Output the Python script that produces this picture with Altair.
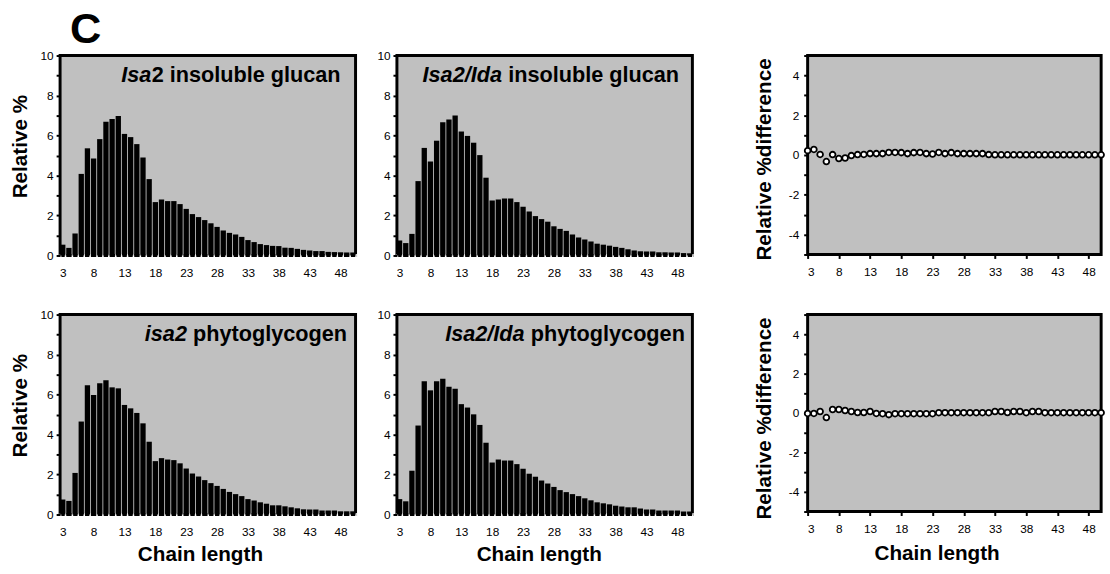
import altair as alt
import pandas as pd

chain = list(range(3, 51))

isa2_glucan = [0.54, 0.38, 1.10, 4.08, 5.36, 4.85, 5.82, 6.69, 6.82, 6.97,
               6.08, 5.92, 5.57, 4.90, 3.82, 2.67, 2.80, 2.72, 2.72, 2.57,
               2.33, 2.07, 1.92, 1.77, 1.61, 1.43, 1.25, 1.13, 1.05, 0.93,
               0.77, 0.67, 0.57, 0.52, 0.48, 0.47, 0.39, 0.38, 0.33, 0.28,
               0.25, 0.22, 0.22, 0.18, 0.17, 0.16, 0.15, 0.15]
isa2ida_glucan = [0.75, 0.62, 1.08, 3.72, 5.38, 4.70, 5.74, 6.66, 6.80, 7.00,
                  6.20, 5.98, 5.64, 5.02, 3.89, 2.75, 2.80, 2.85, 2.85, 2.67,
                  2.44, 2.20, 1.97, 1.82, 1.69, 1.46, 1.33, 1.23, 1.05, 0.90,
                  0.80, 0.70, 0.59, 0.54, 0.49, 0.43, 0.38, 0.31, 0.25, 0.21,
                  0.20, 0.20, 0.16, 0.16, 0.15, 0.15, 0.12, 0.11]
isa2_phyto = [0.75, 0.68, 2.08, 4.65, 6.46, 5.98, 6.56, 6.72, 6.36, 6.31,
              5.48, 5.31, 5.08, 4.56, 3.64, 2.67, 2.82, 2.75, 2.72, 2.56,
              2.30, 2.05, 1.90, 1.72, 1.57, 1.43, 1.28, 1.13, 1.02, 0.92,
              0.77, 0.70, 0.61, 0.54, 0.46, 0.46, 0.41, 0.36, 0.31, 0.26,
              0.25, 0.25, 0.20, 0.20, 0.20, 0.16, 0.16, 0.16]
isa2ida_phyto = [0.77, 0.66, 2.19, 4.45, 6.67, 6.21, 6.67, 6.79, 6.39, 6.29,
                 5.52, 5.35, 5.01, 4.48, 3.59, 2.60, 2.75, 2.70, 2.70, 2.52,
                 2.29, 2.04, 1.89, 1.70, 1.55, 1.38, 1.22, 1.12, 1.02, 0.92,
                 0.81, 0.71, 0.61, 0.56, 0.51, 0.44, 0.40, 0.36, 0.36, 0.30,
                 0.25, 0.25, 0.20, 0.20, 0.20, 0.20, 0.15, 0.15]
diff_glucan = [0.22, 0.28, 0.03, -0.33, 0.02, -0.18, -0.15, -0.03, 0.02, 0.03,
               0.07, 0.07, 0.07, 0.13, 0.13, 0.12, 0.07, 0.12, 0.13, 0.07,
               0.05, 0.13, 0.07, 0.12, 0.07, 0.07, 0.07, 0.07, 0.07, 0.02,
               0.01, 0.01, 0.01, 0.01, 0.01, 0.01, 0.01, 0.01, 0.01, 0.01,
               0.01, 0.01, 0.01, 0.01, 0.01, 0.01, 0.01, 0.01]
diff_phyto = [-0.02, -0.02, 0.08, -0.23, 0.18, 0.18, 0.13, 0.08, 0.03, 0.03,
              0.08, -0.02, -0.03, -0.08, -0.03, -0.03, -0.03, -0.03, -0.03, -0.03,
              -0.03, 0.02, 0.02, 0.02, 0.02, 0.02, 0.02, 0.02, 0.02, 0.02,
              0.08, 0.08, 0.03, 0.08, 0.08, 0.02, 0.08, 0.08, 0.02, 0.02,
              0.02, 0.02, 0.02, 0.02, 0.02, 0.02, 0.02, 0.02]
x_tick_labels = [3, 8, 13, 18, 23, 28, 33, 38, 43, 48]

GRAY = "#C0C0C0"
FONT = "Liberation Sans"
TFS = 21
PFS = 22


def label_text(text, x, style, y=27):
    return alt.Chart(pd.DataFrame({"t": [text]})).mark_text(
        align="left", baseline="alphabetic", font=FONT, fontSize=PFS,
        fontWeight="bold", fontStyle=style, color="black"
    ).encode(text="t:N", x=alt.value(x), y=alt.value(y))


def bar_panel(values, italic, normal, x_it, it_w, ytitle, xtitle, xt_x, extra=None):
    df = pd.DataFrame({"dp": chain, "v": values})
    xargs = dict(
        labelExpr="(datum.value - 3) % 5 == 0 ? datum.label : ''",
        labelAngle=0, labelOverlap=False, tickBand="extent",
        tickColor="white", tickWidth=1.6, tickSize=4, offset=-2,
        labelPadding=10, domain=False,
    )
    if xtitle:
        xaxis = alt.Axis(title=xtitle, titleX=xt_x, titleY=49,
                         titleBaseline="alphabetic", **xargs)
    else:
        xaxis = alt.Axis(title=None, **xargs)
    yargs = dict(values=list(range(0, 11)),
                 labelExpr="datum.value % 2 == 0 ? datum.label : ''",
                 tickSize=4, tickWidth=2, tickColor="black",
                 labelPadding=3, domain=False)
    if ytitle:
        yaxis = alt.Axis(title=ytitle, titleX=-34, titleY=92,
                         titleBaseline="alphabetic", **yargs)
    else:
        yaxis = alt.Axis(title=None, **yargs)
    bars = alt.Chart(df).mark_bar(color="black").encode(
        x=alt.X("dp:O", scale=alt.Scale(paddingInner=0.14, paddingOuter=0), axis=xaxis),
        y=alt.Y("v:Q", scale=alt.Scale(domain=[0, 10], nice=False), axis=yaxis),
    )
    layers = [bars, label_text(italic, x_it, "italic"),
              label_text(normal, x_it + it_w, "normal")]
    if extra is not None:
        layers.append(extra)
    return alt.layer(*layers).properties(width=300, height=203)


def diff_panel(values, xtitle, xt_x, h):
    df = pd.DataFrame({"dp": chain, "v": values})
    xargs = dict(values=x_tick_labels, tickSize=4, tickWidth=2, tickColor="black",
                 labelPadding=8, domain=False, grid=False, labelAngle=0)
    if xtitle:
        xaxis = alt.Axis(title=xtitle, titleX=xt_x, titleY=49,
                         titleBaseline="alphabetic", **xargs)
    else:
        xaxis = alt.Axis(title=None, **xargs)
    yaxis = alt.Axis(values=list(range(-5, 6)),
                     labelExpr="(datum.value % 2 == 0) ? ('' + datum.value) : ''",
                     tickSize=4, tickWidth=2, tickColor="black", labelPadding=5,
                     domain=False, grid=False, title="Relative %difference",
                     titleX=-38, titleY=105, titleBaseline="alphabetic")
    pts = alt.Chart(df).mark_point(
        filled=False, fill="white", fillOpacity=1, stroke="black", strokeWidth=1.8,
        size=34, opacity=1, shape="circle"
    ).encode(
        x=alt.X("dp:Q", scale=alt.Scale(domain=[3, 50], nice=False, zero=False), axis=xaxis),
        y=alt.Y("v:Q", scale=alt.Scale(domain=[-5, 5], nice=False), axis=yaxis),
    )
    return pts.properties(width=298, height=h)


c_label = alt.Chart(pd.DataFrame({"t": ["C"]})).mark_text(
    align="left", baseline="alphabetic", font=FONT, fontSize=44,
    fontWeight="bold", color="black"
).encode(text="t:N", x=alt.value(10), y=alt.value(-13))

p1 = bar_panel(isa2_glucan, "Isa", "2 insoluble glucan", 62, 31, "Relative %", None, 0, c_label)
p2 = bar_panel(isa2ida_glucan, "Isa2/Ida", "insoluble glucan", 26, 87, None, None, 0)
p3 = diff_panel(diff_glucan, None, 0, 202)
p4 = bar_panel(isa2_phyto, "isa2", "phytoglycogen", 86, 49, "Relative %", "Chain length", 142)
p5 = bar_panel(isa2ida_phyto, "Isa2/Ida", "phytoglycogen", 49, 87, None, "Chain length", 144)
p6 = diff_panel(diff_phyto, "Chain length", 131, 200)

row1 = alt.hconcat(alt.hconcat(p1, p2, spacing=17), p3, spacing=57)
row2 = alt.hconcat(alt.hconcat(p4, p5, spacing=17), p6, spacing=57)

chart = alt.vconcat(row1, row2, spacing=27).properties(
    padding={"left": 8, "top": 2, "right": 0, "bottom": 2},
    background="white",
).configure_view(
    stroke="black", strokeWidth=3, fill=GRAY
).configure_axis(
    labelFont=FONT, titleFont=FONT, labelFontSize=12, titleFontSize=TFS,
    titleFontWeight="bold", labelColor="black", titleColor="black", grid=False
)

chart.save("out.html", embed_options={"renderer": "svg", "actions": False})
